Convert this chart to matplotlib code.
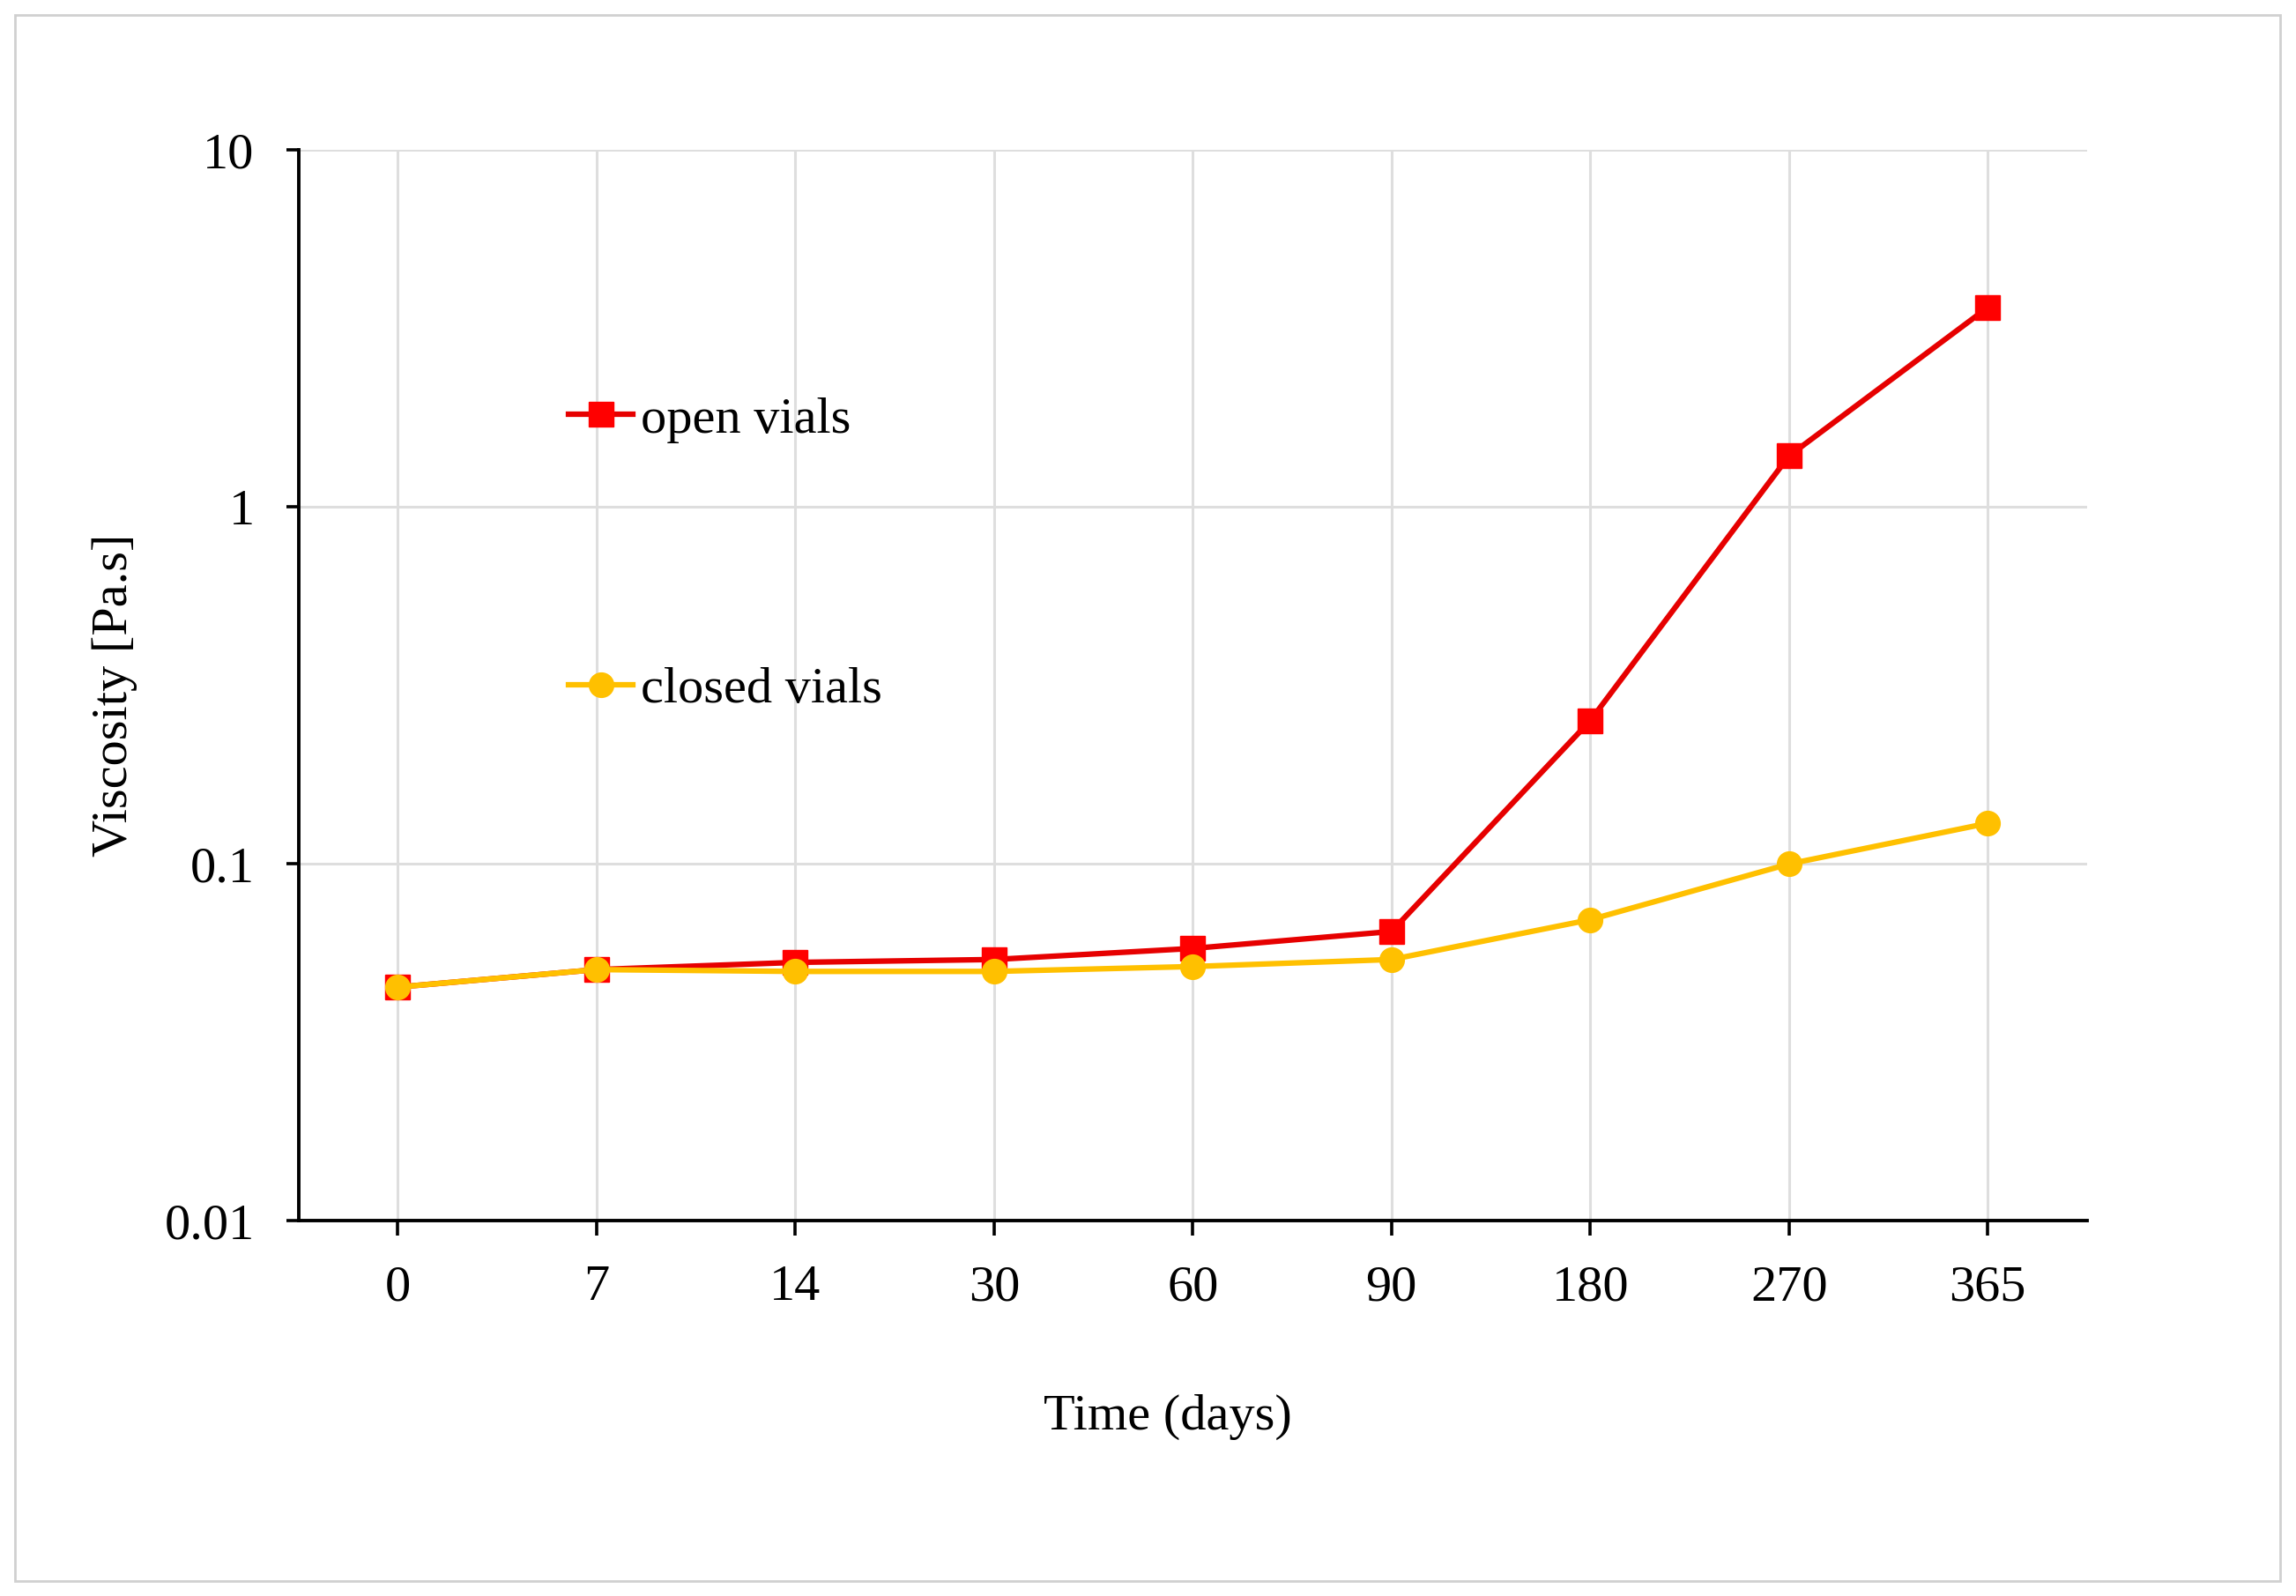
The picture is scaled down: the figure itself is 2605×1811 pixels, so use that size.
import matplotlib
matplotlib.use('Agg')
import matplotlib.pyplot as plt
from matplotlib.lines import Line2D
from matplotlib.patches import Rectangle
from matplotlib.ticker import FixedLocator, NullLocator, FuncFormatter

# data
days = ['0', '7', '14', '30', '60', '90', '180', '270', '365']
open_vials = [0.0452, 0.0506, 0.053, 0.054, 0.058, 0.0647, 0.252, 1.39, 3.62]
closed_vials = [0.0452, 0.0506, 0.050, 0.050, 0.0516, 0.054, 0.0698, 0.100, 0.130]

red = '#ff0000'
yellow = '#ffc000'
fs = 42

plt.rcParams['font.family'] = ['Liberation Serif', 'DejaVu Serif']

fig = plt.figure(figsize=(26.05, 18.11), dpi=100)
ax = fig.add_axes([0.130, 0.235, 0.779, 0.671])

# thin frame round the whole picture
fig.patches.append(Rectangle((0.0065, 0.0094), 0.9866, 0.981, transform=fig.transFigure,
                             fill=False, edgecolor='#d0d0d0', linewidth=2))

x = list(range(len(days)))
ax.plot(x, open_vials, color='#e60000', linewidth=4.5, marker='s', markersize=20,
        markerfacecolor=red, markeredgecolor=red, zorder=3)
ax.plot(x, closed_vials, color=yellow, linewidth=4.5, marker='o', markersize=20,
        markerfacecolor=yellow, markeredgecolor=yellow, zorder=4)

ax.set_yscale('log')
ax.set_ylim(0.01, 10)
ax.set_xlim(-0.5, len(days) - 0.5)
ax.yaxis.set_major_locator(FixedLocator([0.01, 0.1, 1, 10]))
ax.yaxis.set_minor_locator(NullLocator())
ax.yaxis.set_major_formatter(FuncFormatter(lambda v, p: '%g' % v))
ax.set_xticks(x)
ax.set_xticklabels(days)

ax.grid(True, color='#dedede', linewidth=2.2)
ax.set_axisbelow(True)
for s in ['top', 'right']:
    ax.spines[s].set_visible(False)
for s in ['left', 'bottom']:
    ax.spines[s].set_linewidth(2.8)
ax.tick_params(axis='x', length=12, width=2.6, pad=24, labelsize=fs)
ax.tick_params(axis='y', length=10, width=2.6, pad=26, labelsize=fs)

ax.set_xlabel('Time (days)', fontsize=fs)
ax.set_ylabel('Viscosity [Pa.s]', fontsize=fs)
ax.xaxis.set_label_coords(0.486, -0.162)
ax.yaxis.set_label_coords(-0.090, 0.491)

h_open = Line2D([], [], color='#e60000', linewidth=4.5, marker='s', markersize=20,
                markerfacecolor=red, markeredgecolor=red)
h_closed = Line2D([], [], color=yellow, linewidth=4.5, marker='o', markersize=20,
                  markerfacecolor=yellow, markeredgecolor=yellow)
leg1 = ax.legend([h_open], ['open vials'], loc='center left', bbox_to_anchor=(0.151, 0.748),
                 frameon=False, fontsize=fs, borderpad=0, borderaxespad=0,
                 handlelength=1.25, handletextpad=0.15)
ax.add_artist(leg1)
ax.legend([h_closed], ['closed vials'], loc='center left', bbox_to_anchor=(0.151, 0.496),
          frameon=False, fontsize=fs, borderpad=0, borderaxespad=0,
          handlelength=1.25, handletextpad=0.15)

fig.savefig('out.png', dpi=100)
